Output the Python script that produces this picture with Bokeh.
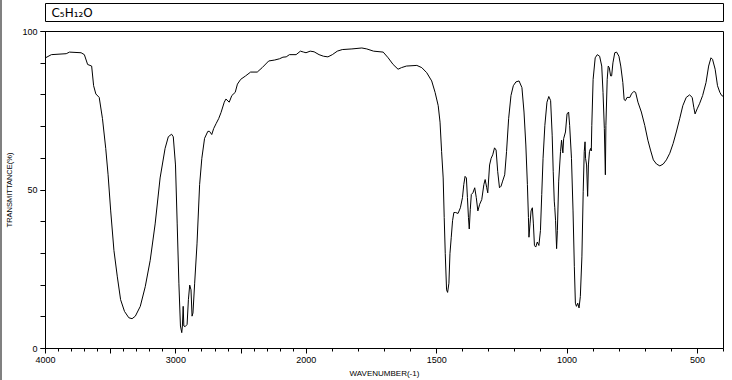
import numpy as np
from bokeh.plotting import figure
from bokeh.models import Range1d, FixedTicker, Div, ColumnDataSource
from bokeh.layouts import column, row
from bokeh.core.properties import value
from bokeh.embed import file_html
from bokeh.resources import INLINE

formula = ["C\u2085H\u2081\u2082O"]
x_label = "WAVENUMBER(-1)"
y_label = "TRANSMITTANCE(%)"

wavenumber = [
    4000, 3955, 3841, 3816, 3727, 3702, 3677, 3646, 3631, 3614, 3588, 3563, 3538, 3520,
    3500, 3475, 3449, 3424, 3394, 3361, 3336, 3311, 3273, 3235, 3197, 3159, 3121, 3083,
    3058, 3033, 3020, 3003, 2990, 2977, 2965, 2955, 2950, 2944, 2939, 2929, 2914, 2904,
    2894, 2884, 2876, 2869, 2856, 2838, 2818, 2801, 2780, 2755, 2742, 2725, 2710, 2692,
    2672, 2654, 2629, 2616, 2591, 2571, 2545, 2528, 2503, 2465, 2427, 2376, 2338, 2288,
    2242, 2205, 2179, 2154, 2129, 2078, 2045, 2020, 2002, 1985, 1970, 1951, 1934, 1917,
    1900, 1881, 1862, 1825, 1787, 1768, 1742, 1705, 1686, 1667, 1648, 1635, 1616, 1576,
    1557, 1538, 1519, 1506, 1494, 1487, 1481, 1475, 1471, 1467, 1462, 1458, 1453, 1449,
    1444, 1439, 1434, 1427, 1418, 1409, 1401, 1396, 1391, 1386, 1382, 1378, 1375, 1371,
    1367, 1361, 1354, 1348, 1342, 1335, 1327, 1319, 1314, 1308, 1304, 1297, 1291, 1285,
    1278, 1272, 1266, 1259, 1253, 1247, 1239, 1232, 1224, 1215, 1206, 1196, 1184, 1173,
    1165, 1158, 1152, 1148, 1146, 1142, 1138, 1133, 1129, 1125, 1120, 1114, 1108, 1102,
    1097, 1092, 1085, 1077, 1070, 1063, 1057, 1053, 1049, 1047, 1044, 1040, 1037, 1032,
    1025, 1021, 1016, 1013, 1006, 1000, 994, 990, 983, 977, 972, 968, 964, 959,
    954, 949, 943, 938, 934, 931, 929, 925, 921, 918, 914, 910, 907, 905,
    900, 892, 884, 875, 867, 862, 857, 853, 851, 846, 842, 838, 833, 829,
    824, 817, 810, 801, 794, 786, 781, 776, 770, 759, 753, 744, 737, 728,
    715, 702, 690, 680, 669, 657, 644, 631, 619, 606, 593, 581, 568, 556,
    543, 530, 520, 514, 509, 501, 492, 480, 467, 457, 448, 442, 432, 423,
    414, 407, 400,
]
transmittance = [
    91.7, 92.7, 93.0, 93.5, 93.3, 92.7, 89.6, 89.1, 82.9, 80.3, 79.2, 72.5, 63.1, 54.8,
    43.4, 30.9, 22.6, 15.4, 11.7, 9.7, 9.4, 10.2, 13.3, 19.5, 27.8, 39.3, 53.8, 63.1,
    66.8, 67.6, 66.8, 57.9, 39.3, 20.6, 7.1, 5.0, 7.1, 13.3, 7.1, 6.9, 7.6, 15.4,
    20.0, 18.5, 10.2, 11.2, 20.6, 33.0, 51.7, 60.0, 66.3, 68.5, 68.5, 67.5, 69.4, 70.9,
    72.5, 74.4, 77.7, 78.7, 77.7, 79.8, 80.8, 83.4, 84.9, 86.0, 87.2, 87.2, 88.6, 90.7,
    91.0, 91.4, 91.9, 92.0, 92.7, 92.7, 93.8, 93.5, 93.3, 93.8, 93.6, 92.7, 92.2, 92.0,
    92.7, 93.8, 94.3, 94.5, 94.8, 94.5, 93.8, 93.5, 91.7, 89.6, 88.1, 88.6, 89.1, 89.3,
    88.6, 87.0, 84.4, 80.8, 76.6, 71.4, 62.1, 53.8, 41.3, 29.9, 18.5, 17.7, 20.6, 29.9,
    35.1, 40.3, 42.9, 42.9, 42.6, 44.4, 47.6, 51.7, 54.3, 53.8, 47.6, 41.3, 37.7, 43.9,
    48.6, 49.1, 50.7, 47.6, 43.4, 45.5, 47.0, 51.7, 53.3, 50.7, 49.1, 57.9, 60.0, 61.1,
    63.3, 62.6, 55.9, 50.7, 51.2, 52.8, 54.8, 62.1, 72.5, 79.8, 82.9, 84.1, 84.4, 82.3,
    74.6, 64.2, 51.7, 41.3, 35.1, 39.3, 43.4, 44.4, 39.3, 32.5, 32.0, 33.6, 32.5, 37.2,
    48.6, 60.0, 70.4, 77.7, 79.5, 78.2, 67.3, 55.9, 46.5, 44.4, 40.3, 31.5, 37.2, 52.8,
    62.1, 65.7, 61.7, 66.2, 68.3, 74.0, 74.6, 70.4, 60.0, 43.4, 25.8, 14.3, 13.3, 14.3,
    12.8, 16.4, 28.9, 49.6, 62.1, 65.2, 60.0, 57.9, 48.0, 57.9, 62.1, 63.1, 62.3, 70.4,
    84.9, 91.7, 92.7, 92.2, 89.1, 80.8, 69.4, 54.8, 70.4, 84.9, 89.1, 88.6, 86.0, 86.0,
    90.1, 93.3, 93.5, 92.2, 89.1, 83.9, 78.5, 78.2, 79.2, 79.2, 80.3, 81.1, 80.8, 77.7,
    74.6, 70.4, 65.7, 62.6, 59.5, 58.2, 57.6, 58.2, 59.5, 61.6, 64.7, 68.3, 72.5, 76.6,
    79.2, 80.0, 79.2, 76.1, 74.0, 75.6, 77.2, 79.8, 83.9, 89.1, 91.7, 91.2, 88.1, 82.9,
    80.8, 79.8, 79.5,
]

major_wn = [4000, 3500, 3000, 2500, 2000, 1500, 1000, 500]
major_wn_labels = ["4000", "", "3000", "", "2000", "1500", "1000", "500"]
minor_wn = list(range(4000, 399, -100))
y_major = [0, 50, 100]
y_major_labels = ["0", "50", "100"]
y_minor = list(range(0, 101, 10))


def to_pos(w):
    # IR chart axis: scale doubles below 2000 cm-1
    w = np.asarray(w, dtype=float)
    return np.where(w >= 2000, 4000 - w, 2000 + 2 * (2000 - w))


FONT = "Liberation Sans"

# ---- title box ----
top = figure(width=730, height=22, x_range=Range1d(0, 685), y_range=Range1d(0, 18),
             x_axis_type=None, y_axis_type=None, output_backend="svg", toolbar_location=None,
             min_border_left=36, min_border_right=9, min_border_top=3, min_border_bottom=1)
top.grid.visible = False
top.outline_line_color = "black"
top.outline_line_alpha = 1
top.text(x=[6], y=[9], text=formula, text_font=value("DejaVu Sans"),
         text_font_size="12px", text_baseline="middle", text_color="black")

# ---- spectrum ----
p = figure(width=730, height=358, x_range=Range1d(0, 5200), y_range=Range1d(0, 100),
           output_backend="svg", toolbar_location=None,
           min_border_left=36, min_border_right=9, min_border_top=9, min_border_bottom=30)
p.grid.visible = False
p.outline_line_color = "black"
p.outline_line_alpha = 1

src = ColumnDataSource(dict(x=to_pos(wavenumber), y=transmittance))
p.line("x", "y", source=src, line_color="black", line_width=1)

xpos = to_pos(major_wn)
p.xaxis.ticker = FixedTicker(ticks=list(xpos), minor_ticks=list(to_pos(minor_wn)))
p.xaxis.major_label_overrides = {float(k): v for k, v in zip(xpos, major_wn_labels)}
p.yaxis.ticker = FixedTicker(ticks=y_major, minor_ticks=y_minor)
p.yaxis.major_label_overrides = {float(k): v for k, v in zip(y_major, y_major_labels)}

for ax in (p.xaxis[0], p.yaxis[0]):
    ax.axis_line_color = "black"
    ax.major_tick_line_color = "black"
    ax.minor_tick_line_color = "black"
    ax.major_tick_in = 0
    ax.minor_tick_in = 0
    ax.major_label_text_font = FONT
    ax.major_label_text_font_size = "9px"
    ax.major_label_text_color = "black"
    ax.major_label_standoff = 3
    ax.axis_label_text_font = FONT
    ax.axis_label_text_font_style = "normal"
    ax.axis_label_text_color = "black"

p.xaxis.major_tick_out = 5
p.xaxis.minor_tick_out = 3
p.yaxis.major_tick_out = 5
p.yaxis.minor_tick_out = 5

p.yaxis.axis_label = y_label
p.yaxis.axis_label_text_font_size = "7.5px"
p.yaxis.axis_label_standoff = 5

p.xaxis.axis_label = x_label
p.xaxis.axis_label_text_font_size = "8px"
p.xaxis.axis_label_standoff = 3

strip = Div(width=2, height=380, margin=(0, 0, 0, 0),
            styles={"background-color": "#808080"})
layout = row(strip, column(top, p, spacing=0), spacing=0)

open("out.html", "w").write(file_html(layout, INLINE))
